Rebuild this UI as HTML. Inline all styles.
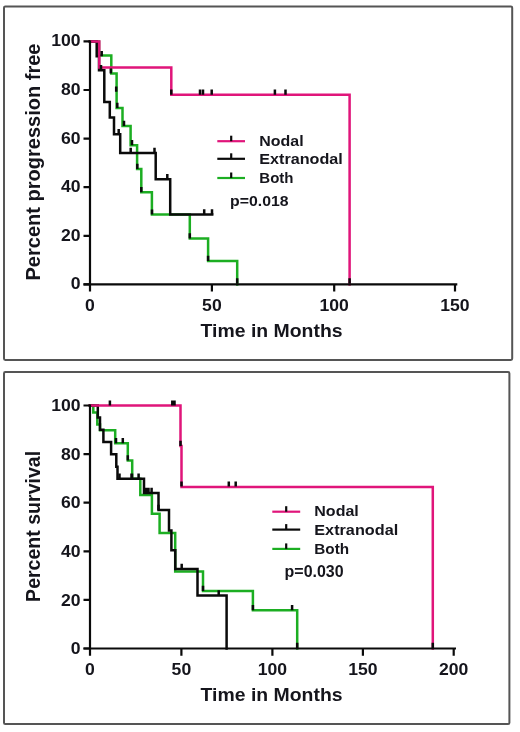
<!DOCTYPE html><html><head><meta charset="utf-8"><style>html,body{margin:0;padding:0;background:#fff;width:520px;height:732px;overflow:hidden}svg{display:block}text{font-family:"Liberation Sans",sans-serif;font-weight:bold;fill:#15151c}</style></head><body>
<svg style="filter:blur(0.4px)" width="520" height="732" viewBox="0 0 520 732">
<rect x="4" y="6.5" width="508.20000000000005" height="353.4" rx="1.3" fill="none" stroke="#555" stroke-width="2"/>
<path d="M89.9 41.4 H99 V55.4 H111.3 V73.6 H116.6 V108 H122.5 V125.9 H130.6 V145.2 H137.1 V169 H141.3 V192.2 H151.9 V214.6 H189.8 V238.4 H208.1 V260.9 H237.2 V284.4" stroke="#1cae22" stroke-width="2.5" fill="none" stroke-linejoin="miter" stroke-linecap="square"/>
<path d="M89.9 41.4 H96.7 V56.3 H99 V70.2 H104.3 V101.9 H109.8 V117.5 H114 V134.2 H120.2 V153 H155.7 V179.3 H170.2 V214.5 H212.2" stroke="#0a0a0a" stroke-width="2.5" fill="none" stroke-linejoin="miter" stroke-linecap="square"/>
<path d="M89.9 41.4 H99.3 V67.4 H171.3 V94.8 H349.6 V284.4" stroke="#e0157a" stroke-width="2.5" fill="none" stroke-linejoin="miter" stroke-linecap="square"/>
<path d="M90 40.4 V291.59999999999997 M83.5 284.4 H457.3" stroke="#0a0a0a" stroke-width="2.2" fill="none"/>
<path d="M83.5 284.4 H90 M83.5 235.8 H90 M83.5 187.2 H90 M83.5 138.6 H90 M83.5 90.0 H90 M83.5 41.4 H90 M211.9 284.4 V291.59999999999997 M334.2 284.4 V291.59999999999997 M455 284.4 V291.59999999999997 " stroke="#0a0a0a" stroke-width="2.2" fill="none"/>
<text x="80.6" y="289.5" font-size="16" text-anchor="end" transform="translate(-8.06 0) scale(1.1 1)">0</text>
<text x="80.6" y="240.9" font-size="16" text-anchor="end" transform="translate(-8.06 0) scale(1.1 1)">20</text>
<text x="80.6" y="192.3" font-size="16" text-anchor="end" transform="translate(-8.06 0) scale(1.1 1)">40</text>
<text x="80.6" y="143.7" font-size="16" text-anchor="end" transform="translate(-8.06 0) scale(1.1 1)">60</text>
<text x="80.6" y="95.1" font-size="16" text-anchor="end" transform="translate(-8.06 0) scale(1.1 1)">80</text>
<text x="80.6" y="46.5" font-size="16" text-anchor="end" transform="translate(-8.06 0) scale(1.1 1)">100</text>
<text x="81.81818181818181" y="311.0" font-size="16" text-anchor="middle" transform="scale(1.1 1)">0</text>
<text x="192.63636363636363" y="311.0" font-size="16" text-anchor="middle" transform="scale(1.1 1)">50</text>
<text x="303.81818181818176" y="311.0" font-size="16" text-anchor="middle" transform="scale(1.1 1)">100</text>
<text x="413.6363636363636" y="311.0" font-size="16" text-anchor="middle" transform="scale(1.1 1)">150</text>
<text x="200.6" y="337.2" font-size="18.6" textLength="142" lengthAdjust="spacingAndGlyphs">Time in Months</text>
<text transform="translate(39.6 162) rotate(-90)" x="0" y="0" font-size="19.5" text-anchor="middle" textLength="237" lengthAdjust="spacingAndGlyphs">Percent progression free</text>
<path d="M101.7 56.3 V51.099999999999994 M101 70.2 V65.0 M110.8 73.6 V68.39999999999999 M116.2 91.7 V86.5 M117.3 108 V102.8 M124 126 V120.8 M132 145.2 V140.0 M137.3 169 V163.8 M141.3 192.2 V187.0 M152 214.6 V209.4 M189.8 238.4 V233.20000000000002 M208.1 261 V255.8 M237.2 283.5 V278.3 M118.7 134.2 V129.0 M130.7 153 V147.8 M154.5 153 V147.8 M167.3 179.3 V174.10000000000002 M204.2 214.5 V209.3 M212 214.5 V209.3 M171.3 94.8 V89.6 M200 94.8 V89.6 M203 94.8 V89.6 M211.7 94.8 V89.6 M274.9 94.8 V89.6 M285.5 94.8 V89.6 M349.6 283.5 V278.3" stroke="#0a0a0a" stroke-width="2.5" fill="none"/>
<path d="M217.3 141.2 H245" stroke="#e0157a" stroke-width="2.2"/>
<path d="M231.2 141.2 V135.7" stroke="#0a0a0a" stroke-width="2.2"/>
<text x="259.3" y="145.8" font-size="15" textLength="44.3" lengthAdjust="spacingAndGlyphs">Nodal</text>
<path d="M217.3 158.8 H245" stroke="#0a0a0a" stroke-width="2.2"/>
<path d="M231.2 158.8 V153.3" stroke="#0a0a0a" stroke-width="2.2"/>
<text x="259.3" y="164.1" font-size="15" textLength="83.5" lengthAdjust="spacingAndGlyphs">Extranodal</text>
<path d="M217.3 178 H245" stroke="#1cae22" stroke-width="2.2"/>
<path d="M231.2 178 V172.5" stroke="#0a0a0a" stroke-width="2.2"/>
<text x="259.3" y="183.1" font-size="15" textLength="34.2" lengthAdjust="spacingAndGlyphs">Both</text>
<text x="230.1" y="206.4" font-size="15.5" textLength="58.5" lengthAdjust="spacingAndGlyphs">p=0.018</text>
<rect x="4" y="372.1" width="505.4" height="351.9" rx="1.3" fill="none" stroke="#555" stroke-width="2"/>
<path d="M89.9 405.6 H93.3 V412.5 H97.3 V424.5 H100 V430.3 H115.2 V443.2 H127.8 V460.5 H132.2 V478.8 H140.3 V495 H151.9 V513.8 H159.6 V532.9 H175.2 V571.6 H203 V591 H252.9 V610.3 H297.2 V648.5" stroke="#1cae22" stroke-width="2.5" fill="none" stroke-linejoin="miter" stroke-linecap="square"/>
<path d="M89.9 405.6 H97.8 V417.5 H100 V429.8 H103.4 V442 H111.1 V454.2 H116.3 V466.7 H117.5 V478.8 H144 V493 H158.5 V509.9 H169 V530.5 H171.4 V550.2 H175.3 V569 H197.5 V595.4 H226.6 V648.5" stroke="#0a0a0a" stroke-width="2.5" fill="none" stroke-linejoin="miter" stroke-linecap="square"/>
<path d="M89.9 405.6 H180.5 V445.9 H181.5 V486.9 H432.8 V648.5" stroke="#e0157a" stroke-width="2.5" fill="none" stroke-linejoin="miter" stroke-linecap="square"/>
<path d="M90 404.5 V655.7 M83.5 648.5 H456.0" stroke="#0a0a0a" stroke-width="2.2" fill="none"/>
<path d="M83.5 648.5 H90 M83.5 599.9 H90 M83.5 551.3 H90 M83.5 502.7 H90 M83.5 454.1 H90 M83.5 405.5 H90 M181.4 648.5 V655.7 M272.4 648.5 V655.7 M362.9 648.5 V655.7 M453.7 648.5 V655.7 " stroke="#0a0a0a" stroke-width="2.2" fill="none"/>
<text x="80.6" y="654.3" font-size="16" text-anchor="end" transform="translate(-8.06 0) scale(1.1 1)">0</text>
<text x="80.6" y="605.7" font-size="16" text-anchor="end" transform="translate(-8.06 0) scale(1.1 1)">20</text>
<text x="80.6" y="557.1" font-size="16" text-anchor="end" transform="translate(-8.06 0) scale(1.1 1)">40</text>
<text x="80.6" y="508.5" font-size="16" text-anchor="end" transform="translate(-8.06 0) scale(1.1 1)">60</text>
<text x="80.6" y="459.9" font-size="16" text-anchor="end" transform="translate(-8.06 0) scale(1.1 1)">80</text>
<text x="80.6" y="411.3" font-size="16" text-anchor="end" transform="translate(-8.06 0) scale(1.1 1)">100</text>
<text x="81.81818181818181" y="675.1" font-size="16" text-anchor="middle" transform="scale(1.1 1)">0</text>
<text x="164.9090909090909" y="675.1" font-size="16" text-anchor="middle" transform="scale(1.1 1)">50</text>
<text x="247.6363636363636" y="675.1" font-size="16" text-anchor="middle" transform="scale(1.1 1)">100</text>
<text x="329.9090909090909" y="675.1" font-size="16" text-anchor="middle" transform="scale(1.1 1)">150</text>
<text x="412.45454545454544" y="675.1" font-size="16" text-anchor="middle" transform="scale(1.1 1)">200</text>
<text x="200.6" y="701.3" font-size="18.6" textLength="142" lengthAdjust="spacingAndGlyphs">Time in Months</text>
<text transform="translate(39.6 526.4) rotate(-90)" x="0" y="0" font-size="19.5" text-anchor="middle" textLength="151" lengthAdjust="spacingAndGlyphs">Percent survival</text>
<path d="M109.9 405.6 V400.40000000000003 M172.3 405.6 V400.40000000000003 M174.5 405.6 V400.40000000000003 M180.5 445.9 V440.7 M181.5 486.6 V481.40000000000003 M228.8 486.6 V481.40000000000003 M235.7 486.6 V481.40000000000003 M432.8 648 V642.8 M119.5 478.8 V473.6 M131.5 478.8 V473.6 M138.6 478.8 V473.6 M146 493 V487.8 M148.5 493 V487.8 M151.6 493 V487.8 M158.5 509.9 V504.7 M181.7 569 V563.8 M218.7 595.4 V590.1999999999999 M116 443.2 V438.0 M122.8 443.2 V438.0 M127.8 460.5 V455.3 M132 478.8 V473.6 M203 591 V585.8 M252.9 610.3 V605.0999999999999 M292.1 610.3 V605.0999999999999 M297.2 648 V642.8" stroke="#0a0a0a" stroke-width="2.5" fill="none"/>
<path d="M272.3 511.7 H300.2" stroke="#e0157a" stroke-width="2.2"/>
<path d="M286.2 511.7 V506.2" stroke="#0a0a0a" stroke-width="2.2"/>
<text x="314.3" y="516.3" font-size="15" textLength="44.5" lengthAdjust="spacingAndGlyphs">Nodal</text>
<path d="M272.3 529.6 H300.2" stroke="#0a0a0a" stroke-width="2.2"/>
<path d="M286.2 529.6 V524.1" stroke="#0a0a0a" stroke-width="2.2"/>
<text x="314.3" y="534.9" font-size="15" textLength="83.9" lengthAdjust="spacingAndGlyphs">Extranodal</text>
<path d="M272.3 548.9 H300.2" stroke="#1cae22" stroke-width="2.2"/>
<path d="M286.2 548.9 V543.4" stroke="#0a0a0a" stroke-width="2.2"/>
<text x="314.3" y="554.0" font-size="15" textLength="34.8" lengthAdjust="spacingAndGlyphs">Both</text>
<text x="284.6" y="576.8" font-size="16.3" textLength="59" lengthAdjust="spacingAndGlyphs">p=0.030</text>
</svg></body></html>
